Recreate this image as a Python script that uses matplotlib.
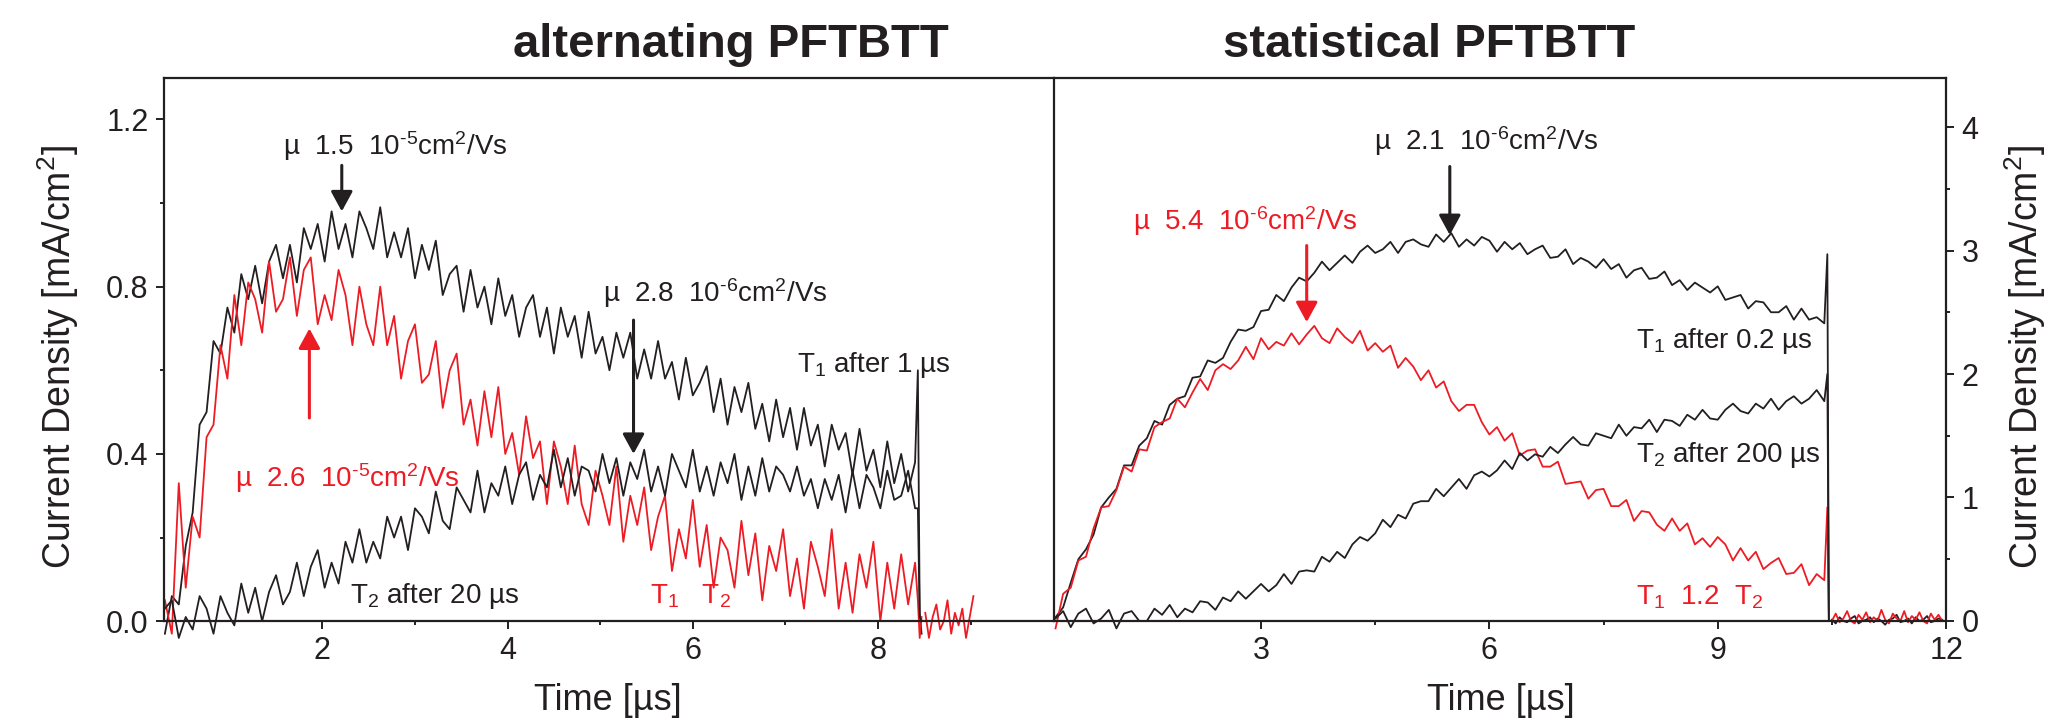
import numpy as np
import matplotlib.pyplot as plt
from matplotlib.ticker import FixedLocator

plt.rcParams['font.family'] = ['Liberation Sans', 'DejaVu Sans']
plt.rcParams['mathtext.fontset'] = 'custom'
plt.rcParams['mathtext.rm'] = 'Liberation Sans'
plt.rcParams['mathtext.it'] = 'Liberation Sans:italic'
plt.rcParams['mathtext.bf'] = 'Liberation Sans:bold'

RED = '#ed1c24'
INK = '#231f20'

# ---- alternating PFTBTT (left panel), sampled every 0.075 us from 0.3 us ----
alt_t0, alt_dt = 0.3, 0.075

alt_T1 = [-0.03, 0.06, 0.04, 0.18, 0.26, 0.47, 0.50, 0.67, 0.64, 0.75,
          0.69, 0.83, 0.77, 0.85, 0.76, 0.86, 0.90, 0.82, 0.90, 0.81,
          0.94, 0.89, 0.95, 0.86, 0.98, 0.89, 0.95, 0.87, 0.98, 0.94,
          0.89, 0.99, 0.87, 0.93, 0.87, 0.94, 0.82, 0.90, 0.84, 0.91,
          0.78, 0.83, 0.85, 0.74, 0.84, 0.75, 0.80, 0.71, 0.82, 0.73,
          0.78, 0.68, 0.75, 0.78, 0.68, 0.75, 0.64, 0.75, 0.68, 0.73,
          0.63, 0.74, 0.64, 0.68, 0.60, 0.69, 0.63, 0.69, 0.58, 0.65,
          0.58, 0.67, 0.58, 0.62, 0.53, 0.63, 0.54, 0.57, 0.61, 0.50,
          0.58, 0.47, 0.56, 0.50, 0.57, 0.46, 0.52, 0.43, 0.53, 0.44,
          0.51, 0.41, 0.51, 0.42, 0.47, 0.37, 0.47, 0.41, 0.45, 0.35,
          0.46, 0.36, 0.41, 0.32, 0.43, 0.33, 0.40, 0.31, 0.38]
alt_T2 = [0.03, 0.05, -0.04, 0.01, -0.02, 0.06, 0.03, -0.03, 0.06, 0.02,
          -0.01, 0.09, 0.02, 0.08, 0.00, 0.07, 0.11, 0.04, 0.07, 0.14,
          0.06, 0.13, 0.17, 0.08, 0.14, 0.09, 0.19, 0.14, 0.22, 0.14,
          0.19, 0.15, 0.25, 0.20, 0.25, 0.17, 0.27, 0.25, 0.21, 0.31,
          0.24, 0.22, 0.32, 0.29, 0.26, 0.36, 0.26, 0.33, 0.30, 0.37,
          0.28, 0.35, 0.38, 0.29, 0.35, 0.32, 0.41, 0.32, 0.39, 0.30,
          0.37, 0.36, 0.31, 0.40, 0.33, 0.39, 0.30, 0.38, 0.34, 0.41,
          0.31, 0.37, 0.30, 0.40, 0.36, 0.32, 0.41, 0.31, 0.37, 0.30,
          0.38, 0.33, 0.40, 0.29, 0.37, 0.30, 0.39, 0.31, 0.37, 0.35,
          0.31, 0.37, 0.30, 0.34, 0.27, 0.34, 0.29, 0.35, 0.26, 0.36,
          0.27, 0.35, 0.32, 0.27, 0.36, 0.29, 0.30, 0.36, 0.27]
alt_red = [0.05, -0.03, 0.33, 0.08, 0.25, 0.20, 0.44, 0.47, 0.66, 0.58,
           0.78, 0.66, 0.81, 0.77, 0.69, 0.86, 0.74, 0.77, 0.87, 0.73,
           0.84, 0.87, 0.71, 0.78, 0.72, 0.84, 0.78, 0.66, 0.80, 0.71,
           0.66, 0.80, 0.66, 0.73, 0.58, 0.67, 0.71, 0.57, 0.59, 0.67,
           0.51, 0.60, 0.64, 0.47, 0.53, 0.42, 0.55, 0.44, 0.56, 0.40,
           0.45, 0.35, 0.49, 0.39, 0.43, 0.28, 0.43, 0.37, 0.28, 0.42,
           0.28, 0.23, 0.36, 0.30, 0.23, 0.37, 0.19, 0.30, 0.23, 0.32,
           0.17, 0.25, 0.30, 0.12, 0.22, 0.15, 0.29, 0.13, 0.23, 0.08,
           0.20, 0.17, 0.08, 0.24, 0.11, 0.21, 0.05, 0.18, 0.12, 0.22,
           0.06, 0.15, 0.03, 0.19, 0.13, 0.06, 0.22, 0.03, 0.14, 0.02,
           0.16, 0.08, 0.19, 0.00, 0.14, 0.03, 0.16, 0.04, 0.14]

# end of transient (light switched off)
alt_end_t = [8.43, 8.45, 8.47]
alt_T1_end = [0.60, 0.02, -0.03]
alt_T2_end = [0.27, 0.01, 0.00]
alt_red_end = [0.05, -0.04, 0.01]
alt_tail_t0, alt_tail_dt = 8.51, 0.04
alt_red_tail = [0.02, -0.04, 0.01, 0.04, -0.02, 0.00, 0.05, -0.03, 0.02,
                -0.01, 0.03, -0.04, 0.01, 0.06]

# ---- statistical PFTBTT (right panel), sampled every 0.1 us from 0.3 us ----
sta_t0, sta_dt = 0.3, 0.1

sta_T1 = [0.03, 0.11, 0.31, 0.50, 0.58, 0.70, 0.92, 1.00, 1.07, 1.26,
          1.26, 1.42, 1.48, 1.62, 1.59, 1.75, 1.80, 1.82, 1.97, 1.98,
          2.11, 2.09, 2.13, 2.26, 2.36, 2.35, 2.38, 2.51, 2.52, 2.64,
          2.59, 2.70, 2.78, 2.75, 2.82, 2.91, 2.84, 2.90, 2.96, 2.90,
          2.99, 3.04, 2.98, 3.01, 3.07, 2.98, 3.07, 3.09, 3.05, 3.03,
          3.13, 3.07, 3.14, 3.03, 3.09, 3.04, 3.11, 3.08, 2.99, 3.07,
          3.01, 3.06, 2.97, 3.01, 3.04, 2.94, 2.95, 3.01, 2.89, 2.94,
          2.91, 2.86, 2.93, 2.85, 2.89, 2.78, 2.84, 2.86, 2.77, 2.78,
          2.83, 2.72, 2.76, 2.68, 2.74, 2.70, 2.66, 2.71, 2.60, 2.62,
          2.64, 2.53, 2.59, 2.58, 2.50, 2.50, 2.55, 2.44, 2.53, 2.44,
          2.46, 2.41]
sta_T2 = [0.02, 0.08, -0.05, 0.06, 0.10, -0.02, 0.02, 0.09, -0.06, 0.06,
          0.08, 0.00, 0.00, 0.10, 0.05, 0.13, 0.03, 0.10, 0.07, 0.16,
          0.15, 0.09, 0.19, 0.16, 0.24, 0.18, 0.24, 0.30, 0.24, 0.29,
          0.38, 0.30, 0.40, 0.41, 0.40, 0.52, 0.48, 0.56, 0.51, 0.62,
          0.68, 0.65, 0.71, 0.82, 0.76, 0.86, 0.83, 0.95, 0.97, 0.97,
          1.07, 1.01, 1.08, 1.15, 1.07, 1.18, 1.21, 1.17, 1.22, 1.30,
          1.23, 1.36, 1.30, 1.35, 1.33, 1.41, 1.36, 1.43, 1.49, 1.43,
          1.42, 1.52, 1.50, 1.48, 1.59, 1.50, 1.57, 1.56, 1.63, 1.53,
          1.63, 1.62, 1.58, 1.67, 1.63, 1.71, 1.64, 1.63, 1.71, 1.76,
          1.70, 1.68, 1.76, 1.72, 1.80, 1.71, 1.78, 1.82, 1.76, 1.80,
          1.87, 1.78]
sta_red = [-0.06, 0.22, 0.27, 0.49, 0.52, 0.75, 0.92, 0.93, 1.06, 1.25,
           1.21, 1.39, 1.38, 1.57, 1.61, 1.64, 1.80, 1.73, 1.85, 1.96,
           1.87, 2.03, 2.08, 2.04, 2.11, 2.22, 2.12, 2.29, 2.20, 2.26,
           2.23, 2.33, 2.24, 2.32, 2.39, 2.29, 2.25, 2.37, 2.30, 2.25,
           2.35, 2.19, 2.25, 2.18, 2.23, 2.05, 2.13, 2.06, 1.95, 2.03,
           1.89, 1.94, 1.78, 1.70, 1.75, 1.75, 1.61, 1.51, 1.57, 1.46,
           1.52, 1.34, 1.38, 1.39, 1.25, 1.25, 1.29, 1.11, 1.12, 1.13,
           0.99, 1.06, 1.07, 0.93, 0.93, 0.98, 0.81, 0.89, 0.88, 0.78,
           0.73, 0.83, 0.73, 0.79, 0.62, 0.67, 0.60, 0.68, 0.62, 0.49,
           0.59, 0.49, 0.56, 0.42, 0.47, 0.51, 0.38, 0.39, 0.46, 0.29,
           0.38, 0.33]

sta_end_t = [10.44, 10.46]
sta_T1_end = [2.97, 0.00]
sta_T2_end = [2.00, 0.00]
sta_red_end = [0.92, 0.00]
sta_tail_t0, sta_tail_dt = 10.50, 0.05
sta_red_tail = [0.00, 0.06, -0.01, 0.02, 0.08, 0.00, -0.02, 0.05, 0.01, 0.07,
                -0.01, 0.03, 0.00, 0.09, 0.01, -0.02, 0.06, 0.02, 0.00, 0.08,
                -0.01, 0.04, 0.01, 0.07, 0.00, -0.02, 0.06, 0.01, 0.05, 0.00]
sta_black_tail = [0.01, -0.02, 0.03, 0.00, -0.01, 0.02, 0.04, -0.02, 0.00, 0.01,
                  0.03, -0.01, 0.02, 0.00, -0.03, 0.01, 0.02, 0.05, -0.01, 0.00,
                  0.02, -0.02, 0.03, 0.00, 0.01, 0.04, -0.01, 0.00, 0.02, 0.01]


def trace(t0, dt, vals, end_t, end_vals):
    t = t0 + dt * np.arange(len(vals))
    return np.concatenate([t, end_t]), np.array(list(vals) + list(end_vals))


fig = plt.figure(figsize=(20.47, 7.28), dpi=100)
ax1 = fig.add_axes([0.0801, 0.12088, 0.4348, 0.77198])
ax2 = fig.add_axes([0.5149, 0.12088, 0.4358, 0.77198])

LW = 1.3

# left panel
x, y = trace(alt_t0, alt_dt, alt_T1, alt_end_t, alt_T1_end)
ax1.plot(x, y, color=INK, lw=LW)
x, y = trace(alt_t0, alt_dt, alt_red, alt_end_t, alt_red_end)
ax1.plot(x, y, color=RED, lw=LW)
tail_t = alt_tail_t0 + alt_tail_dt * np.arange(len(alt_red_tail))
ax1.plot(tail_t, alt_red_tail, color=RED, lw=LW)
x, y = trace(alt_t0, alt_dt, alt_T2, alt_end_t, alt_T2_end)
ax1.plot(x, y, color=INK, lw=LW)

# right panel
tail_t = sta_tail_t0 + sta_tail_dt * np.arange(len(sta_red_tail))
x, y = trace(sta_t0, sta_dt, sta_T1, sta_end_t, sta_T1_end)
ax2.plot(x, y, color=INK, lw=LW)
ax2.plot(tail_t, sta_black_tail, color=INK, lw=LW)
x, y = trace(sta_t0, sta_dt, sta_red, sta_end_t, sta_red_end)
ax2.plot(x, y, color=RED, lw=LW)
ax2.plot(tail_t, sta_red_tail, color=RED, lw=LW)
x, y = trace(sta_t0, sta_dt, sta_T2, sta_end_t, sta_T2_end)
ax2.plot(x, y, color=INK, lw=LW)

ax1.set_xlim(0.29, 9.9)
ax1.set_ylim(-0.045, 1.299)
ax2.set_xlim(0.28, 12.0)
ax2.set_ylim(-0.154, 4.397)

for ax in (ax1, ax2):
    for s in ax.spines.values():
        s.set_linewidth(1.6)
        s.set_color(INK)
    ax.spines['bottom'].set_position(('data', 0))
    ax.tick_params(which='both', direction='out', width=1.4, colors=INK,
                   labelsize=22, pad=5)
    ax.tick_params(which='major', length=6)
    ax.tick_params(which='minor', length=3)

ax1.spines['right'].set_visible(False)
ax1.spines['left'].set_bounds(0, 1.299)
ax1.set_xticks([2, 4, 6, 8])
ax1.xaxis.set_minor_locator(FixedLocator([3, 5, 7, 9]))
ax1.set_yticks([0.0, 0.4, 0.8, 1.2])
ax1.set_yticklabels(['0.0', '0.4', '0.8', '1.2'])
ax1.yaxis.set_minor_locator(FixedLocator([0.2, 0.6, 1.0]))

ax2.spines['left'].set_bounds(0, 4.397)
ax2.spines['right'].set_bounds(0, 4.397)
ax2.yaxis.tick_right()
ax2.set_xticks([3, 6, 9, 12])
ax2.xaxis.set_minor_locator(FixedLocator([4.5, 7.5, 10.5]))
ax2.set_yticks([0, 1, 2, 3, 4])
ax2.yaxis.set_minor_locator(FixedLocator([0.5, 1.5, 2.5, 3.5]))

# axis labels and titles
fig.text(0.297, 0.0247, 'Time [µs]', fontsize=26, color=INK,
         ha='center', va='baseline')
fig.text(0.733, 0.0247, 'Time [µs]', fontsize=26, color=INK,
         ha='center', va='baseline')
fig.text(0.0283, 0.51, 'Current Density [mA/cm$^2$]', fontsize=27,
         color=INK, rotation=90, ha='center', va='center')
fig.text(0.9893, 0.51, 'Current Density [mA/cm$^2$]', fontsize=27,
         color=INK, rotation=90, ha='center', va='center')
fig.text(0.357, 0.9217, 'alternating PFTBTT', fontsize=34, weight='bold',
         color=INK, ha='center', va='baseline')
fig.text(0.698, 0.9217, 'statistical PFTBTT', fontsize=34, weight='bold',
         color=INK, ha='center', va='baseline')


# annotations
def arrow(ax, x, y_from, y_to, color):
    ax.annotate('', xy=(x, y_to), xytext=(x, y_from),
                arrowprops=dict(arrowstyle='-|>,head_length=0.55,head_width=0.3',
                                color=color, lw=2.2, shrinkA=0, shrinkB=0,
                                mutation_scale=22))


def note(ax, x, y, s, color=INK):
    ax.text(x, y, s, fontsize=20, color=color, ha='left', va='baseline')


HY = '\u2010'  # short hyphen for the exponent, as in the figure

note(ax1, 1.58, 1.115, 'µ  1.5  10$^{' + HY + '5}$cm$^2$/Vs')
arrow(ax1, 2.21, 1.09, 0.98, INK)
note(ax1, 5.03, 0.763, 'µ  2.8  10$^{' + HY + '6}$cm$^2$/Vs')
arrow(ax1, 5.36, 0.72, 0.40, INK)
note(ax1, 7.13, 0.596, 'T$_1$ after 1 µs')
note(ax1, 1.06, 0.32, 'µ  2.6  10$^{' + HY + '5}$cm$^2$/Vs', RED)
arrow(ax1, 1.86, 0.486, 0.70, RED)
note(ax1, 2.30, 0.043, 'T$_2$ after 20 µs')
note(ax1, 5.54, 0.043, 'T$_1$   T$_2$', RED)

note(ax2, 4.48, 3.81, 'µ  2.1  10$^{' + HY + '6}$cm$^2$/Vs')
arrow(ax2, 5.48, 3.68, 3.125, INK)
note(ax2, 1.32, 3.17, 'µ  5.4  10$^{' + HY + '6}$cm$^2$/Vs', RED)
arrow(ax2, 3.60, 3.04, 2.42, RED)
note(ax2, 7.92, 2.21, 'T$_1$ after 0.2 µs')
note(ax2, 7.92, 1.29, 'T$_2$ after 200 µs')
note(ax2, 7.92, 0.13, 'T$_1$  1.2  T$_2$', RED)

fig.savefig('out.png', dpi=100)
